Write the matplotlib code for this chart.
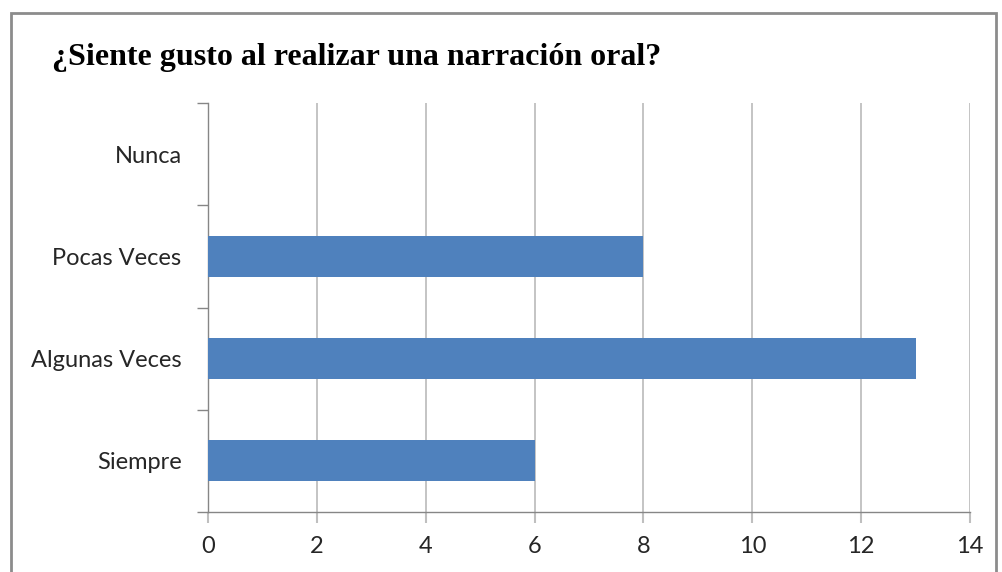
import matplotlib
matplotlib.use("Agg")
import matplotlib.pyplot as plt
from matplotlib.patches import Rectangle

categories = ["Siempre", "Algunas Veces", "Pocas Veces", "Nunca"]
values = [6, 13, 8, 0]
xticks = [0, 2, 4, 6, 8, 10, 12, 14]
title = "¿Siente gusto al realizar una narración oral?"

fig = plt.figure(figsize=(10.02, 5.72), dpi=100)
fig.patch.set_facecolor("white")
ax = fig.add_axes([208/1002, 1-512/572, (970-208)/1002, (512-103)/572])

y = list(range(len(categories)))
ax.barh(y, values, height=0.4, color="#4F81BD", zorder=3)
ax.set_xlim(0, 14)
ax.set_ylim(-0.5, len(categories)-0.5)
ax.set_xticks(xticks)
ax.set_xticklabels([str(t) for t in xticks], fontsize=17, family="Lato", color="#262626")
ax.set_yticks(y)
ax.set_yticklabels(categories, fontsize=17, family="Lato", color="#262626")
ax.tick_params(axis="y", length=0, pad=19)
ax.set_yticks([i - 0.5 for i in range(len(categories)+1)], minor=True)
ax.tick_params(axis="y", which="minor", length=8, color="#868686", width=1)
ax.tick_params(axis="x", length=8, color="#BFBFBF", width=1.5, pad=9)
ax.grid(axis="x", color="#BFBFBF", linewidth=1.3, zorder=0)
for s in ["top", "right"]:
    ax.spines[s].set_visible(False)
ax.spines["left"].set_color("#868686")
ax.spines["bottom"].set_color("#868686")
ax.spines["left"].set_linewidth(1)
ax.spines["bottom"].set_linewidth(1)

fig.text(52/1002, 1-57/572, title, fontsize=23, family="Liberation Serif",
         fontweight="bold", va="center", ha="left", color="black")

fig.patches.append(Rectangle((11/1002, -0.05), (996-11)/1002, 1-13/572+0.05,
                             transform=fig.transFigure, fill=False,
                             edgecolor="#8C8C8C", linewidth=2))

fig.savefig("out.png", dpi=100)
